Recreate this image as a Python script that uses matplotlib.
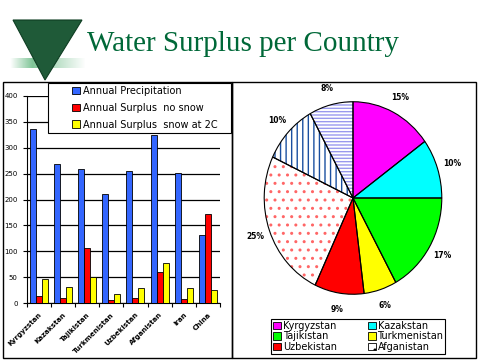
import matplotlib.pyplot as plt
import numpy as np
from matplotlib.patches import Rectangle, Polygon, Patch

# bar chart data
countries = ["Kyrgyzstan", "Kazakstan", "Tajikistan", "Turkmenistan",
             "Uzbekistan", "Afganistan", "Iran", "China"]
precip = [335, 268, 258, 210, 254, 325, 252, 131]
surplus_no_snow = [15, 11, 106, 7, 11, 60, 9, 173]
surplus_snow_2c = [46, 31, 50, 17, 29, 77, 29, 25]

# pie data
pie_labels = ["Kyrgyzstan", "Kazakstan", "Tajikistan", "Turkmenistan",
              "Uzbekistan", "Afganistan", "Iran", "China"]
pie_share = [15, 10, 17, 6, 9, 25, 10, 8]

W, H = 480, 360
fig = plt.figure(figsize=(4.8, 3.6), dpi=100)
fig.patch.set_facecolor("white")


def rect(x0, y0, x1, y1):
    # pixel box (top-left origin) -> figure fraction
    return [x0 / W, 1 - y1 / H, (x1 - x0) / W, (y1 - y0) / H]


# panel frames
for x0, x1 in [(2.5, 232), (232, 476.5)]:
    fig.add_artist(Rectangle((x0 / W, 1 - 358 / H), (x1 - x0) / W, (358 - 82) / H,
                             transform=fig.transFigure, fill=False,
                             edgecolor="black", lw=1))

# logo: green triangle and faded band
fig.add_artist(Polygon([(13 / W, 1 - 20 / H), (82 / W, 1 - 20 / H), (45 / W, 1 - 80 / H)],
                       closed=True, transform=fig.transFigure,
                       facecolor="#1f5a38", edgecolor="#0e3d22", lw=0.8))
band = fig.add_axes(rect(10, 58, 86, 68))
grad = np.ones((1, 100, 4))
grad[..., 0] = 0.45
grad[..., 1] = 0.75
grad[..., 2] = 0.55
grad[0, :, 3] = np.concatenate([np.linspace(0, 0.9, 30), np.linspace(0.9, 0, 70)])
band.imshow(grad, aspect="auto")
band.axis("off")

fig.text(87 / W, 1 - 51 / H, "Water Surplus per Country", family="Liberation Serif",
         fontsize=21, color="#006838", ha="left", va="baseline")

# bar chart
ax = fig.add_axes(rect(26.7, 95.7, 220, 303.3))
x = np.arange(len(countries))
w = 0.25
b1 = ax.bar(x - w, precip, w, color="#3366ff", edgecolor="black", lw=0.6,
            label="Annual Precipitation", zorder=3)
b2 = ax.bar(x, surplus_no_snow, w, color="#ff0000", edgecolor="black", lw=0.6,
            label="Annual Surplus  no snow", zorder=3)
b3 = ax.bar(x + w, surplus_snow_2c, w, color="#ffff00", edgecolor="black", lw=0.6,
            label="Annual Surplus  snow at 2C", zorder=3)
ax.set_xlim(-0.5, len(countries) - 0.5)
ax.set_ylim(0, 400)
ax.set_yticks(range(0, 401, 50))
ax.yaxis.grid(True, color="black", lw=0.9, zorder=0)
ax.set_axisbelow(True)
for s in ["top", "right"]:
    ax.spines[s].set_visible(False)
ax.set_xticks(np.arange(-0.5, len(countries) + 0.5, 1))
ax.set_xticklabels([])
ax.set_xticks(x, minor=True)
ax.set_xticklabels(countries, minor=True, rotation=45, ha="right",
                   rotation_mode="anchor", fontsize=5, fontweight="bold")
ax.tick_params(axis="x", which="minor", length=0, pad=6)
ax.tick_params(axis="x", which="major", length=3, direction="out")
ax.tick_params(axis="y", labelsize=5, length=3, direction="out")

# legend box drawn separately so the entries can sit inset
fig.add_artist(Rectangle((48 / W, 1 - 133 / H), (231 - 48) / W, (133 - 83) / H,
                         transform=fig.transFigure, facecolor="white",
                         edgecolor="black", lw=0.8, zorder=5))
leg = fig.legend(handles=[b1, b2, b3], loc="upper left",
                 bbox_to_anchor=(70 / W, 1 - 84 / H), bbox_transform=fig.transFigure,
                 fontsize=7, frameon=False, handlelength=0.8, handleheight=0.8,
                 handletextpad=0.3, labelspacing=0.7, borderpad=0.2,
                 borderaxespad=0)
leg.set_zorder(10)

# pie chart
pax = fig.add_axes(rect(258, 95, 448, 301))
fills = ["#ff00ff", "#00ffff", "#00ff00", "#ffff00", "#ff0000", "white", "white", "white"]
hatches = [None, None, None, None, None, "..", "|||", "-----"]
hcols = ["black", "black", "black", "black", "black", "#ff6666", "#1a4fa0", "#9999ee"]
wedges, texts, autotexts = pax.pie(pie_share, colors=fills, startangle=90,
                                   counterclock=False, autopct="%d%%",
                                   pctdistance=1.17,
                                   textprops=dict(fontsize=5.5, fontweight="bold"))
for wd, h, hc in zip(wedges, hatches, hcols):
    if h:
        wd.set_hatch(h)
        wd.set_edgecolor(hc)
        wd.set_linewidth(0)
outline, _ = pax.pie(pie_share, startangle=90, counterclock=False,
                     wedgeprops=dict(fill=False, edgecolor="black", lw=0.8))
pax.set_aspect("auto")
pax.set_xlim(-1.07, 1.07)
pax.set_ylim(-1.07, 1.07)
pax.axis("off")

# legend (two columns, row order)
order = [0, 2, 4, 1, 3, 5]
handles = []
for i in order:
    handles.append(Patch(facecolor=fills[i], edgecolor="black", lw=0.6,
                         hatch=hatches[i]))
leg2 = fig.legend(handles=handles, labels=[pie_labels[i] for i in order],
                  ncol=2, loc="upper left", bbox_to_anchor=(271 / W, 1 - 319 / H),
                  bbox_transform=fig.transFigure, fontsize=7, frameon=True,
                  fancybox=False, framealpha=1, edgecolor="black",
                  handlelength=0.8, handleheight=0.8, handletextpad=0.2,
                  labelspacing=0.05, columnspacing=3.2, borderpad=0.2,
                  borderaxespad=0)
leg2.get_frame().set_linewidth(0.8)

fig.savefig("out.png", dpi=100)
